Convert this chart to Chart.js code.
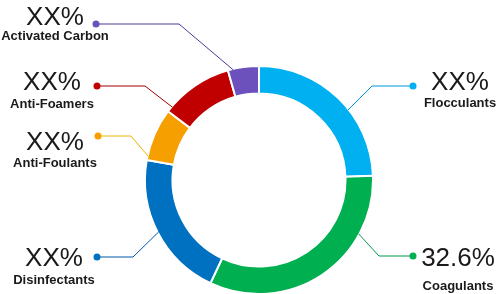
<!DOCTYPE html>
<html>
<head>
<meta charset="utf-8">
<script src="https://cdn.jsdelivr.net/npm/chart.js@4/dist/chart.umd.min.js"></script>
<style>
  html, body { margin: 0; padding: 0; background: #fff; }
  #wrap { width: 497px; height: 294px; }
</style>
</head>
<body>
<div id="wrap"><canvas id="donut"></canvas></div>
<script>
const categories = ['Flocculants', 'Coagulants', 'Disinfectants', 'Anti-Foulants', 'Anti-Foamers', 'Activated Carbon'];
const shares = [24.4, 32.6, 20.8, 7.5, 10.3, 4.4];
const valueLabels = ['XX%', '32.6%', 'XX%', 'XX%', 'XX%', 'XX%'];
const colors = ['#00b0f0', '#00b050', '#0070c0', '#f5a000', '#c00000', '#6c50bc'];
const lineColors = ['#0096d8', '#00984a', '#0058a8', '#f0b400', '#a00000', '#4a3898'];

// call-out layout: where the leader leaves the ring (fraction of the arc),
// elbow x, dot position and text centre / baselines
const leaderFrac = [0.59, 0.26, 0.5, 0.07, 0.08, 0.17];
const elbowX = [372, 379, 133, 131, 145, 179];
const dotPos = [[413, 86], [413, 256], [97, 257], [98, 136], [97, 86], [96, 24]];
const textPos = [[460, 90, 107], [458, 266, 290], [54, 266, 284], [55, 150, 167], [52, 90, 108], [55, 25, 40]];

const callouts = {
  id: 'callouts',
  afterDatasetsDraw(chart) {
    const c = chart.ctx;
    const arcs = chart.getDatasetMeta(0).data;
    c.save();
    arcs.forEach((arc, i) => {
      const p = arc.getProps(['x', 'y', 'startAngle', 'endAngle', 'outerRadius'], true);
      const a = p.startAngle + leaderFrac[i] * (p.endAngle - p.startAngle);
      const sx = p.x + Math.cos(a) * (p.outerRadius - 1);
      const sy = p.y + Math.sin(a) * (p.outerRadius - 1);
      const [dx, dy] = dotPos[i];
      c.strokeStyle = lineColors[i];
      c.lineWidth = 1;
      c.beginPath();
      c.moveTo(sx, sy);
      c.lineTo(elbowX[i], dy);
      c.lineTo(dx, dy);
      c.stroke();
      c.fillStyle = colors[i];
      c.beginPath();
      c.arc(dx, dy, 3.5, 0, Math.PI * 2);
      c.fill();

      const [tx, vy, ny] = textPos[i];
      c.fillStyle = '#1a1a1a';
      c.textAlign = 'center';
      c.textBaseline = 'alphabetic';
      c.font = '26px "Liberation Sans", Arial, sans-serif';
      c.fillText(valueLabels[i], tx, vy);
      c.font = 'bold 13px "Liberation Sans", Arial, sans-serif';
      c.fillText(categories[i], tx, ny);
    });
    c.restore();
  }
};

new Chart(document.getElementById('donut'), {
  type: 'doughnut',
  data: {
    labels: categories,
    datasets: [{
      data: shares,
      backgroundColor: colors,
      borderColor: '#ffffff',
      borderWidth: 2
    }]
  },
  options: {
    responsive: true,
    maintainAspectRatio: false,
    animation: false,
    radius: 114,
    cutout: 85,
    layout: { padding: { top: 67, bottom: 1, left: 146, right: 125 } },
    plugins: {
      legend: { display: false },
      tooltip: { enabled: false }
    }
  },
  plugins: [callouts]
});
</script>
</body>
</html>
